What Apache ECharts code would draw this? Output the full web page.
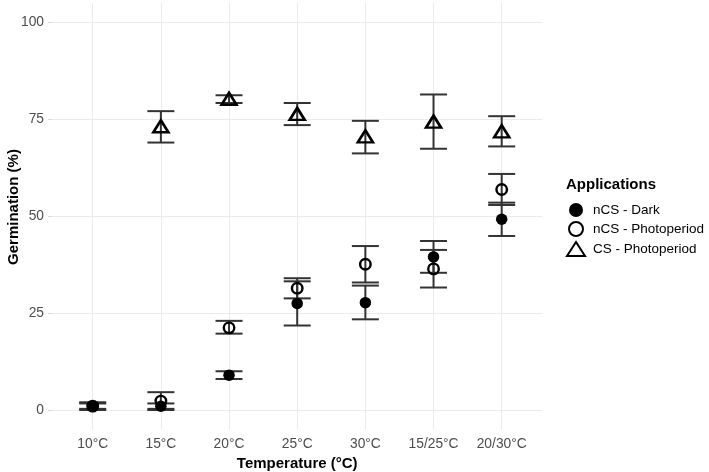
<!DOCTYPE html>
<html>
<head>
<meta charset="utf-8">
<script src="https://cdn.jsdelivr.net/npm/echarts@6/dist/echarts.min.js"></script>
<style>
  html, body { margin: 0; padding: 0; background: #fff; }
  #chart { width: 709px; height: 472px; }
</style>
</head>
<body>
<div id="chart"></div>
<script>
// temperature treatments
var categories = ['10°C', '15°C', '20°C', '25°C', '30°C', '15/25°C', '20/30°C']
var yTicks = [0, 25, 50, 75, 100]

// nCS - Dark
var darkMean = [1.0, 1.0, 9.0, 27.5, 27.7, 39.5, 49.2]
var darkLow = [0.3, 0.3, 8.0, 21.8, 23.4, 35.4, 44.9]
var darkHigh = [1.7, 1.7, 10.0, 33.2, 32.1, 43.6, 53.5]

// nCS - Photoperiod
var photoMean = [1.0, 2.3, 21.2, 31.4, 37.6, 36.4, 56.9]
var photoLow = [0.0, 0.0, 19.7, 28.8, 32.9, 31.6, 52.9]
var photoHigh = [2.0, 4.6, 23.0, 34.0, 42.3, 41.3, 60.9]

// CS - Photoperiod (no value at 10°C)
var csMean = [null, 73.2, 80.3, 76.4, 70.6, 74.4, 71.9]
var csLow = [null, 69.0, 79.2, 73.5, 66.2, 67.4, 68.0]
var csHigh = [null, 77.1, 81.2, 79.2, 74.6, 81.4, 75.8]

var font = '"Liberation Sans", Arial, Helvetica, sans-serif'

function points(vals) {
    let out = []
    vals.forEach((v, i) => {
        if (v !== null) out.push([i, v])
    })
    return out
}

function bars(low, high) {
    let out = []
    low.forEach((l, i) => {
        if (l !== null) out.push([i, l, high[i]])
    })
    return out
}

/** 误差线 custom series */
function errorSeries(low, high) {
    return {
        type: 'custom',
        xAxisIndex: 1,
        yAxisIndex: 1,
        clip: false,
        silent: true,
        z: 1,
        renderItem: function (params, api) {
            let x = api.coord([api.value(0), api.value(1)])[0]
            let yl = api.coord([api.value(0), api.value(1)])[1]
            let yh = api.coord([api.value(0), api.value(2)])[1]
            let hw = 13.5
            let st = { stroke: '#333333', lineWidth: 2 }
            return {
                type: 'group',
                children: [
                    { type: 'line', shape: { x1: x, y1: yl, x2: x, y2: yh }, style: st },
                    { type: 'line', shape: { x1: x - hw, y1: yl, x2: x + hw, y2: yl }, style: st },
                    { type: 'line', shape: { x1: x - hw, y1: yh, x2: x + hw, y2: yh }, style: st }
                ]
            }
        },
        data: bars(low, high)
    }
}

var myChart = echarts.init(document.getElementById('chart'))

let option = {
    animation: false,
    title: {
        text: 'Applications',
        left: 561,
        top: 172,
        textStyle: { fontFamily: font, fontSize: 15, fontWeight: 'bold', color: '#000' }
    },
    legend: {
        orient: 'vertical',
        left: 561,
        top: 198,
        itemWidth: 18,
        itemHeight: 14,
        itemGap: 4,
        textStyle: { fontFamily: font, fontSize: 13.5, color: '#000', padding: [0, 0, 0, 3] },
        data: ['nCS - Dark', 'nCS - Photoperiod', 'CS - Photoperiod']
    },
    // y轴标题
    graphic: [{
        type: 'text',
        x: 14,
        y: 207,
        rotation: Math.PI / 2,
        style: {
            text: 'Germination (%)',
            fill: '#000',
            font: 'bold 15px ' + font,
            textAlign: 'center',
            textVerticalAlign: 'middle'
        }
    }],
    grid: [
        { left: 52, right: 166.4, top: 22.3, bottom: 62, containLabel: false, outerBoundsMode: 'none' },
        { left: 92.7, right: 207.3, top: 3, bottom: 42.6, containLabel: false, outerBoundsMode: 'none' }
    ],
    xAxis: [
        { gridIndex: 0, type: 'value', min: 0, max: 1, show: false },
        {
            gridIndex: 1,
            type: 'value',
            min: 0,
            max: categories.length - 1,
            interval: 1,
            name: 'Temperature (°C)',
            nameLocation: 'middle',
            nameGap: 26,
            nameTextStyle: { fontFamily: font, fontSize: 15, fontWeight: 'bold', color: '#000' },
            axisLine: { show: false },
            axisTick: { show: false },
            axisLabel: {
                margin: 8,
                fontFamily: font,
                fontSize: 13.8,
                color: '#4d4d4d',
                formatter: v => categories[v] || ''
            },
            splitLine: { show: true, lineStyle: { color: '#ebebeb', width: 1 } }
        }
    ],
    yAxis: [
        {
            gridIndex: 0,
            type: 'value',
            min: yTicks[0],
            max: yTicks[yTicks.length - 1],
            interval: 25,
            axisLine: { show: false },
            axisTick: { show: true, length: 4, lineStyle: { color: '#d9d9d9' } },
            axisLabel: { margin: 8, fontFamily: font, fontSize: 13.8, color: '#4d4d4d' },
            splitLine: { show: true, lineStyle: { color: '#ebebeb', width: 1 } }
        },
        { gridIndex: 1, type: 'value', min: -5, max: 105, show: false, splitLine: { show: false } }
    ],
    series: [
        errorSeries(darkLow, darkHigh),
        errorSeries(photoLow, photoHigh),
        errorSeries(csLow, csHigh),
        {
            name: 'nCS - Dark',
            type: 'scatter',
            xAxisIndex: 1,
            yAxisIndex: 1,
            clip: false,
            z: 3,
            symbol: 'circle',
            symbolSize: 11.5,
            itemStyle: { color: '#000', opacity: 1 },
            data: points(darkMean)
        },
        {
            name: 'nCS - Photoperiod',
            type: 'scatter',
            xAxisIndex: 1,
            yAxisIndex: 1,
            clip: false,
            z: 3,
            symbol: 'circle',
            symbolSize: 10.5,
            itemStyle: { color: 'transparent', borderColor: '#000', borderWidth: 2.4, opacity: 1 },
            data: points(photoMean)
        },
        {
            name: 'CS - Photoperiod',
            type: 'scatter',
            xAxisIndex: 1,
            yAxisIndex: 1,
            clip: false,
            z: 3,
            symbol: 'triangle',
            symbolSize: [15, 12],
            itemStyle: { color: 'transparent', borderColor: '#000', borderWidth: 2.6, opacity: 1 },
            data: points(csMean)
        }
    ]
}

myChart.setOption(option)
</script>
</body>
</html>
